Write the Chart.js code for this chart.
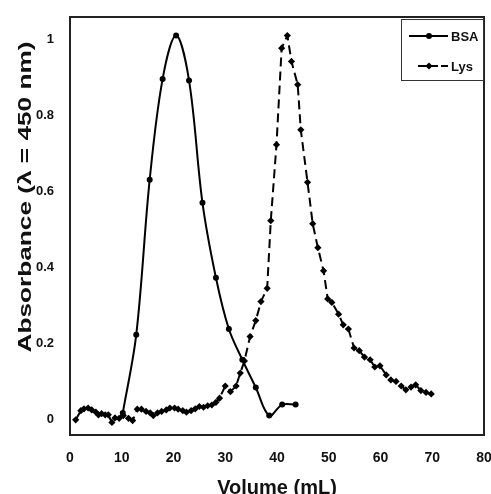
<!DOCTYPE html>
<html>
<head>
<meta charset="utf-8">
<script src="https://cdn.jsdelivr.net/npm/chart.js@4/dist/chart.umd.min.js"></script>
<style>
  html, body { margin:0; padding:0; background:#fff; }
  #wrap { width:491px; height:494px; position:relative; }
</style>
</head>
<body>
<div id="wrap"><canvas id="c" width="491" height="494"></canvas></div>
<script>
/* Elution profiles, BSA vs lysozyme. */
const bsaVolume = [10.2, 12.8, 15.4, 17.9, 20.5, 23.0, 25.6, 28.2, 30.7, 33.3, 35.9, 38.5, 41.0, 43.6];
const bsaAbs    = [0.018, 0.224, 0.632, 0.897, 1.011, 0.893, 0.571, 0.374, 0.239, 0.158, 0.085, 0.011, 0.040, 0.040];

const lysVolume = [1.1, 2.1, 2.7, 3.5, 4.2, 5.0, 5.5, 6.1, 6.8, 7.4, 8.1, 8.7, 9.5, 10.3, 11.3, 12.1,
                   13.0, 13.8, 14.7, 15.5, 16.1, 16.9, 17.7, 18.6, 19.3, 20.2, 20.9, 21.8, 22.5, 23.4,
                   24.2, 25.0, 25.8, 26.6, 27.4, 28.2, 28.9, 30.0, 31.0, 32.1, 32.9, 33.7, 34.8, 35.9,
                   36.9, 38.1, 38.8, 39.9, 40.9, 42.0, 42.8, 44.0, 44.6, 45.9, 46.9, 47.9, 49.0, 49.8,
                   50.6, 51.9, 52.8, 53.8, 54.9, 55.9, 56.9, 58.0, 58.9, 59.9, 61.1, 62.0, 63.0, 64.0,
                   64.9, 65.9, 66.8, 67.8, 68.8, 69.8];
const lysAbs    = [0.000, 0.024, 0.029, 0.031, 0.026, 0.020, 0.013, 0.016, 0.013, 0.013, -0.007, 0.005, 0.004, 0.011, 0.004, -0.002,
                   0.028, 0.028, 0.022, 0.018, 0.011, 0.018, 0.022, 0.026, 0.031, 0.031, 0.028, 0.024, 0.020, 0.024,
                   0.029, 0.035, 0.033, 0.037, 0.039, 0.046, 0.057, 0.089, 0.074, 0.089, 0.123, 0.155, 0.219, 0.261,
                   0.311, 0.346, 0.524, 0.724, 0.978, 1.011, 0.943, 0.882, 0.763, 0.625, 0.516, 0.453, 0.392, 0.318,
                   0.309, 0.278, 0.250, 0.239, 0.189, 0.182, 0.165, 0.158, 0.139, 0.142, 0.118, 0.105, 0.101, 0.089,
                   0.079, 0.086, 0.092, 0.077, 0.072, 0.068];

const xTicks = [0, 10, 20, 30, 40, 50, 60, 70, 80];
const yTicks = [0, 0.2, 0.4, 0.6, 0.8, 1];
const yTitle = "Absorbance (λ = 450 nm)";

const FONT = "'Liberation Sans', Arial, sans-serif";
const INK = "#111";

const pts = (xs, ys) => xs.map((x, i) => ({ x, y: ys[i] }));

// box round the plot area (Excel-style frame)
const frame = {
  id: "frame",
  afterDatasetsDraw(chart){
    const { ctx, chartArea:a } = chart;
    ctx.save();
    ctx.strokeStyle = "#222"; ctx.lineWidth = 2;
    ctx.strokeRect(a.left, a.top, a.right - a.left, a.bottom - a.top);
    ctx.restore();
  }
};

// y title: the original is drawn a bit stretched along its length and sits above centre
const yTitlePlugin = {
  id: "yTitle",
  afterDraw(chart){
    const { ctx } = chart;
    ctx.save();
    ctx.translate(26, 197);
    ctx.rotate(-Math.PI / 2);
    ctx.scale(1.38, 1);
    ctx.font = "bold 19px " + FONT;
    ctx.fillStyle = INK;
    ctx.textAlign = "center"; ctx.textBaseline = "middle";
    ctx.fillText(yTitle, 0, 0);
    ctx.restore();
  }
};

// legend box in the top-right corner, line sample with the marker in its middle
const legendBox = {
  id: "legendBox",
  afterDraw(chart){
    const { ctx, chartArea:a } = chart;
    const w = 83, h = 62, x0 = a.right - w, y0 = a.top + 2;
    ctx.save();
    ctx.fillStyle = "#fff"; ctx.fillRect(x0, y0, w, h);
    ctx.strokeStyle = "#333"; ctx.lineWidth = 1;
    ctx.strokeRect(x0 + 0.5, y0 + 0.5, w - 1, h - 1);
    chart.data.datasets.forEach((ds, i) => {
      const cy = y0 + 17 + i * 30;
      const mx = x0 + 28;
      ctx.strokeStyle = ds.borderColor; ctx.lineWidth = 2;
      ctx.beginPath();
      if (ds.borderDash){
        ctx.moveTo(x0 + 17, cy); ctx.lineTo(mx + 9, cy);
        ctx.moveTo(x0 + 40, cy); ctx.lineTo(x0 + 47, cy);
      } else {
        ctx.moveTo(x0 + 8, cy); ctx.lineTo(x0 + 47, cy);
      }
      ctx.stroke();
      ctx.fillStyle = ds.pointBackgroundColor;
      ctx.beginPath();
      if (ds.pointStyle === "rectRot"){
        const r = 3.6;
        ctx.moveTo(mx, cy - r); ctx.lineTo(mx + r, cy); ctx.lineTo(mx, cy + r); ctx.lineTo(mx - r, cy);
        ctx.closePath();
      } else {
        ctx.arc(mx, cy, 3, 0, Math.PI * 2);
      }
      ctx.fill();
      ctx.fillStyle = INK;
      ctx.font = "bold 13px " + FONT;
      ctx.textBaseline = "middle";
      ctx.fillText(ds.label, x0 + 50, cy + 1);
    });
    ctx.restore();
  }
};

new Chart(document.getElementById("c"), {
  type: "scatter",
  data: {
    datasets: [
      { label:"BSA", data: pts(bsaVolume, bsaAbs), showLine:true, tension:0.35,
        borderColor:"#000", borderWidth:2, pointStyle:"circle", pointRadius:3,
        pointBackgroundColor:"#000", pointBorderColor:"#000", pointBorderWidth:0 },
      { label:"Lys", data: pts(lysVolume, lysAbs), showLine:true, tension:0,
        borderColor:"#000", borderWidth:2, borderDash:[9,5], pointStyle:"rectRot", pointRadius:3.6,
        pointBackgroundColor:"#000", pointBorderColor:"#000", pointBorderWidth:0 }
    ]
  },
  options: {
    responsive:false, animation:false,
    layout:{ padding:{ top:17, right:7, left:0, bottom:0 } },
    plugins:{ legend:{ display:false }, tooltip:{ enabled:false } },
    scales:{
      x:{
        type:"linear", min:0, max:80,
        afterFit: s => { s.height = 59; s.paddingLeft = 0; s.paddingRight = 0; },
        afterBuildTicks: s => { s.ticks = xTicks.map(v => ({ value:v })); },
        grid:{ display:false, drawTicks:false },
        border:{ display:false },
        ticks:{ padding:15, color:INK, maxRotation:0, font:{ family:FONT, size:14, weight:"bold" } },
        title:{ display:true, text:"Volume (mL)", color:INK, padding:{ top:0, bottom:0 },
                font:{ family:FONT, size:20, weight:"bold", lineHeight:0.6 } }
      },
      y:{
        type:"linear", min:-0.04, max:1.06,
        afterFit: s => { s.width = 70; s.paddingTop = 0; s.paddingBottom = 0; },
        afterBuildTicks: s => { s.ticks = yTicks.map(v => ({ value:v })); },
        grid:{ display:false, drawTicks:false },
        border:{ display:false },
        ticks:{ padding:16, color:INK, font:{ family:FONT, size:13, weight:"bold" },
                callback: v => String(v) },
        title:{ display:false }
      }
    }
  },
  plugins:[frame, legendBox, yTitlePlugin]
});
</script>
</body>
</html>
